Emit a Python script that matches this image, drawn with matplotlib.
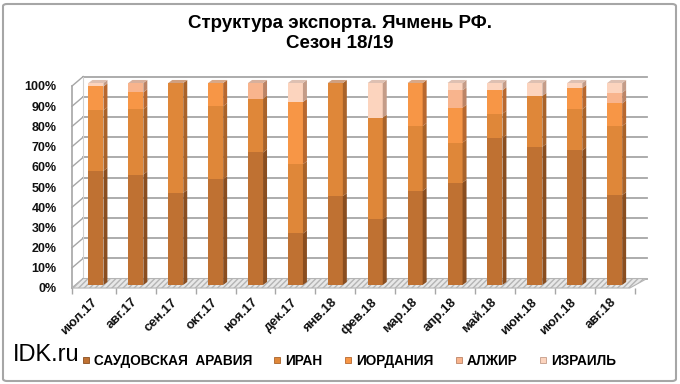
import matplotlib
matplotlib.use("Agg")
import matplotlib.pyplot as plt
from matplotlib.lines import Line2D
from matplotlib.patches import FancyBboxPatch, Polygon
from matplotlib.transforms import ScaledTranslation
import numpy as np

plt.rcParams['font.family'] = ['Liberation Sans', 'DejaVu Sans']

months = ['июл.17', 'авг.17', 'сен.17', 'окт.17', 'ноя.17', 'дек.17', 'янв.18',
          'фев.18', 'мар.18', 'апр.18', 'май.18', 'июн.18', 'июл.18', 'авг.18']
series_names = ['САУДОВСКАЯ  АРАВИЯ', 'ИРАН', 'ИОРДАНИЯ', 'АЛЖИР', 'ИЗРАИЛЬ']
saudi = [56.5, 54.7, 45.6, 52.4, 65.6, 25.5, 44.0, 32.5, 46.6, 50.7, 72.8, 68.4, 66.6, 44.5]
iran = [30.0, 32.4, 54.4, 36.1, 26.7, 34.3, 56.0, 50.4, 32.1, 19.8, 12.0, 25.2, 20.4, 34.2]
jordan = [11.8, 8.3, 0.0, 11.5, 0.0, 30.8, 0.0, 0.0, 21.3, 17.3, 11.6, 0.0, 10.5, 11.2]
algeria = [0.0, 4.6, 0.0, 0.0, 7.7, 0.0, 0.0, 0.0, 0.0, 8.6, 0.0, 0.0, 0.0, 5.3]
israel = [1.7, 0.0, 0.0, 0.0, 0.0, 9.4, 0.0, 17.1, 0.0, 3.6, 3.6, 6.4, 2.5, 4.8]
yticks = [0, 10, 20, 30, 40, 50, 60, 70, 80, 90, 100]

front_colors = ['#BF7132', '#DF8739', '#F79646', '#F8B48D', '#FCD4BE']
side_colors = ['#8A4E20', '#A9632A', '#B8682F', '#BC8466', '#C49C88']
top_colors = ['#C89A80', '#D0A080', '#D8A888', '#D8B09C', '#DEC0B2']

fig = plt.figure(figsize=(6.8, 3.84), dpi=100)
fig.patch.set_facecolor('white')
ax = fig.add_axes([72 / 680, (384 - 285) / 384, 562.6 / 680, 202 / 384])
ax.set_xlim(-0.6, 13.5)
ax.set_ylim(0, 100)
ax.set_facecolor('none')
for s in ax.spines.values():
    s.set_visible(False)

# 3D-ish geometry (data units)
w = 0.376
d = 0.10
dy = 1.5
fy = -1.5          # front plane offset
bx, by = 0.28, 3.2  # back wall offset
xmax_back = 13.81
grid_c = '#A6A6A6'

# back wall gridlines and connectors
for v in yticks:
    ax.plot([-0.6 + bx, xmax_back], [v + by, v + by], color=grid_c, lw=1.3,
            clip_on=False, zorder=1)
    ax.plot([-0.6, -0.6 + bx], [v + fy, v + by], color=grid_c, lw=1.0,
            clip_on=False, zorder=1)
# front axis line
ax.plot([-0.6, -0.6], [fy, 100 + fy], color=grid_c, lw=1.2, clip_on=False, zorder=1)
ax.plot([-0.6 + bx, -0.6 + bx], [by, 100 + by], color='#D0D0D0', lw=0.8,
        clip_on=False, zorder=1)

# floor
floor = Polygon([(-0.6, fy), (13.38, fy), (xmax_back, by), (-0.6 + bx, by)],
                closed=True, facecolor='#E8E8E8', edgecolor='#B4B4B4',
                hatch='//////', lw=0.8, clip_on=False, zorder=1.5)
ax.add_patch(floor)
# x tick marks at slot boundaries
bounds = np.arange(-0.5, 13.6, 1.0)
ax.vlines(np.concatenate([[-0.6], bounds[1:]]), fy - 2.8, fy, color=grid_c, lw=1.0,
          clip_on=False)

data = np.array([saudi, iran, jordan, algeria, israel])
x = np.arange(len(months))
bottoms = np.zeros(len(months))
for i in range(len(series_names)):
    vals = data[i]
    ax.bar(x, vals, width=w, bottom=bottoms, color=front_colors[i],
           edgecolor='none', zorder=3)
    for j in range(len(months)):
        if vals[j] <= 0:
            continue
        b = bottoms[j]
        t = b + vals[j]
        xr = x[j] + w / 2
        ax.fill([xr, xr + d, xr + d, xr], [b, b + dy, t + dy, t],
                color=side_colors[i], lw=0, zorder=3, clip_on=False)
    bottoms = bottoms + vals

# top caps
for j in range(len(months)):
    top_idx = max(i for i in range(len(series_names)) if data[i][j] > 0)
    t = bottoms[j]
    xl = x[j] - w / 2
    ax.fill([xl, xl + w, xl + w + d, xl + d], [t, t, t + dy, t + dy],
            color=top_colors[top_idx], lw=0, zorder=3, clip_on=False)

# ticks and labels
ax.set_yticks(yticks)
ax.set_yticklabels([f'{v}%' for v in yticks], fontsize=9, fontweight='bold',
                   color='#111111')
ax.tick_params(axis='y', length=0, pad=11)
off = ScaledTranslation(0, -3 / 100, fig.dpi_scale_trans)
for lab in ax.get_yticklabels():
    lab.set_transform(lab.get_transform() + off)

ax.set_xticks(x)
ax.set_xticklabels(months, rotation=45, ha='right', va='center',
                   rotation_mode='anchor', fontsize=9.5, fontweight='bold',
                   color='#111111')
ax.tick_params(axis='x', length=0, pad=11)

# title
fig.text(0.5, 1 - 23 / 384, 'Структура экспорта. Ячмень РФ.', ha='center', va='center',
         fontsize=13.5, fontweight='bold')
fig.text(0.5, 1 - 44 / 384, 'Сезон 18/19', ha='center', va='center',
         fontsize=13.5, fontweight='bold')

# watermark
fig.text(13 / 680, 1 - 355 / 384, 'IDK.ru', ha='left', va='center', fontsize=17)

# legend
handles = [Line2D([0], [0], marker='s', linestyle='none', markersize=5,
                  markerfacecolor=front_colors[i], markeredgecolor=side_colors[i],
                  markeredgewidth=0.6) for i in range(len(series_names))]
leg = fig.legend(handles, series_names, loc='center', ncol=5,
                 bbox_to_anchor=(349 / 680, 1 - 361 / 384), frameon=False,
                 handlelength=0.5, handletextpad=0.35, columnspacing=1.6,
                 prop={'family': ['Liberation Sans'], 'weight': 'bold', 'size': 9.8})

# outer border
border = FancyBboxPatch((3 / 680, 3 / 384), 673 / 680, 377 / 384,
                        boxstyle='round,pad=0,rounding_size=0.006',
                        transform=fig.transFigure, facecolor='none',
                        edgecolor='#A6A6A6', lw=1.5)
fig.patches.append(border)

fig.savefig('out.png', dpi=100)
